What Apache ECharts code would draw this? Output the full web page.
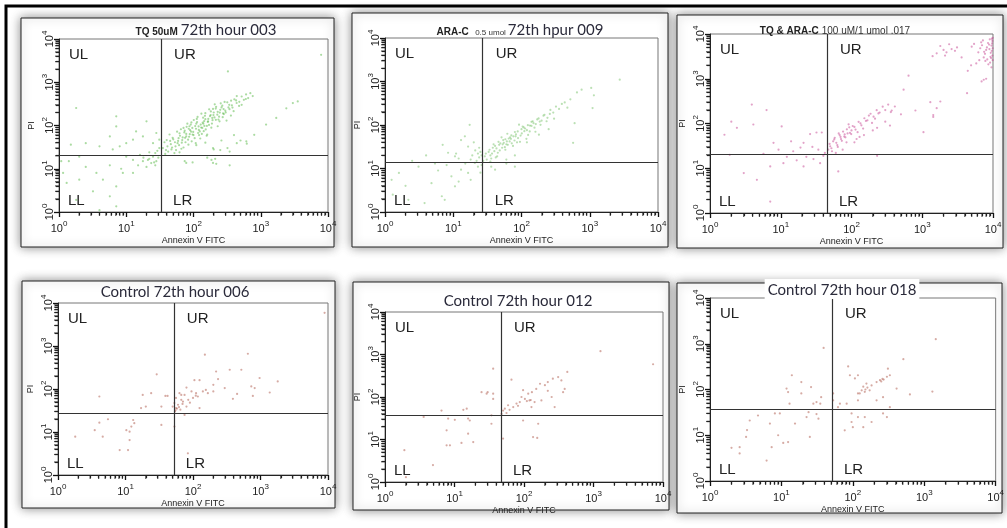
<!DOCTYPE html>
<html>
<head>
<meta charset="utf-8">
<script src="https://cdn.jsdelivr.net/npm/echarts@6/dist/echarts.min.js"></script>
<style>
  html, body { margin: 0; padding: 0; background: #fff; }
  #chart { width: 1007px; height: 528px; }
</style>
</head>
<body>
<div id="chart"></div>
<script>
// axis decades and quadrant gates (Annexin V FITC / PI)
const decades = [1, 10, 100, 1000, 10000];
const minorSteps = [2, 3, 4, 5, 6, 7, 8, 9];
const gateX = [33, 27, 45, 52, 46.6, 50.8];
const gateY = [20, 14, 21, 28, 38, 37.5];
const quadrantNames = ['UL', 'UR', 'LL', 'LR'];

const tq50Points = [
  [37,41],[52,23],[44,62],[61,35],[39,27],[71,88],[48,31],[83,47],[57,72],[66,29],[93,118],[42,25],[78,64],[104,51],[59,44],[87,96],
  [124,73],[46,37],[69,53],[112,142],[97,62],[135,88],[54,33],[148,167],[76,41],[119,95],[163,121],[89,78],[63,58],[181,212],[142,74],
  [101,134],[73,69],[205,154],[128,105],[158,98],[49,52],[226,178],[94,43],[171,236],[117,67],[246,199],[139,152],[81,110],[192,133],
  [268,287],[152,81],[109,84],[214,246],[65,82],[297,221],[176,164],[86,55],[235,137],[131,188],[318,344],[99,71],[188,111],[261,262],
  [144,126],[343,238],[68,46],[207,309],[157,58],[372,293],[121,60],[283,184],[79,93],[405,402],[229,207],[58,39],[166,142],[438,331],
  [91,105],[254,326],[108,39],[476,284],[198,174],[137,116],[520,468],[71,31],[301,201],[184,89],[561,392],[115,158],[331,262],[47,28],
  [605,523],[244,125],[150,193],[362,374],[84,36],[650,430],[217,270],[126,50],[395,214],[62,66],[700,560],[272,156],[96,88],[440,480],
  [160,62],[53,41],[310,130],[106,97],[480,352],[195,242],[74,76],[133,64],[360,170],[41,33],[290,350],[88,63],[520,300],[170,103],
  [229,96],[40,46],[113,120],[62,24],[250,230],[145,98],[380,260],[78,56],[190,150],[55,27],[275,190],[120,79],[100,60],[35,30],[45,44],
  [67,40],[92,72],[140,110],[180,175],[215,135],[340,300],[430,380],[600,410],[760,480],[38,22],[50,48],[60,51],[85,84],[75,52],
  [110,110],[150,140],[130,90],[165,125],[200,200],[240,160],[280,240],
  [110,35],[150,40],[200,28],[260,45],[320,30],[400,60],[500,45],[620,38],[195,30],[250,27],[345,25],[440,39],
  [7900,4300],[325,1780],[3550,360],[3000,330],[2400,250],[1700,150],[1200,105],[800,61],[610,43],
  [74,15],[97,14],[185,16],[218,13],[345,12],[78,13.6],[195,13.6],[210,17],[160,18],
  [1.08,15],[1.4,15],[2.0,19],[2.5,11],[3.6,8],[5.7,12],[4.5,5.6],[7.1,3.9],[8.9,8],[8.4,10],[10,19],[12.6,16],[17.7,15],[21,16],
  [23.5,13.5],[25,19],[28,15],[20,11],[12.6,8],[5.7,2.3],[7.1,1.35],[4,1.1],[3.2,3],[1.3,4.7],[1.15,8],[1.8,1.9],[2,5.6],
  [22,17],[26,14],[30,18],[18,18],[15,12],[27,12],
  [1.8,254],[7.1,163],[5.7,56],[20,125],[1.5,36],[4,33],[8,33],[12.6,47],[17.7,56],[28,67],[25,39],[31,47],[14,73],[10,39],
  [6.3,28],[2.5,39],[7.1,95],[16,21],[22,24],[29,26],[31,30],[27,23]
];

const araCPoints = [
  [29,19],[34,27],[31,16],[41,33],[37,22],[46,41],[33,24],[52,30],[44,19],[58,47],[39,36],[63,35],[48,26],[71,58],[55,39],[36,17],
  [79,44],[62,63],[43,29],[88,71],[67,42],[51,52],[97,57],[75,33],[58,27],[108,88],[83,61],[47,35],[120,76],[92,102],[65,49],[133,97],
  [72,38],[101,64],[146,122],[54,45],[113,83],[162,105],[80,69],[125,59],[178,142],[89,50],[140,118],[197,126],[60,36],[155,87],
  [217,172],[104,92],[240,146],[118,48],[170,134],[265,222],[76,55],[190,101],[292,193],[132,71],[210,164],[320,265],[95,41],[233,122],
  [355,234],[150,110],[390,305],[40,25],[68,52],[86,40],[110,72],[45,23],[57,31],[160,70],[260,180],[300,140],[430,330],[470,250],
  [520,390],[35,20],[49,38],[82,55],[124,99],[185,120],[27.5,15],[30,22],[38,30],[42,18],[53,36],[61,42],[70,48],[100,80],[140,95],
  [600,110],[570,39],[650,560],[760,650],[1050,710],[1100,245],[1150,480],[2750,1100],[35,14.5],[60,16],[80,20],[180,60],[250,80],[120,40],
  [1.6,7.9],[4.8,4.6],[6.8,2.3],[9.4,6.6],[13,9.4],[10.6,19],[16.5,32],[17.4,101],[14.8,55],[8.4,23],[5.4,13],[3.1,11],[20.7,13.4],
  [23,11],[16.5,7.9],[10.6,3.9],[2.2,1.9],[1.25,5.5],[3.8,1.6],[7.5,1.9],[24,18],[25,24],[22,15],[26,12],[19,20],[21,26],[18,16],
  [15,13],[12,17],[11,22],[24,30],[20,40],[13,45],[7,35],[26,20],[23,22],[36,11],[41,9.4],[80,11],[60,13],[4,20],[2.5,15],[6,9],
  [8,12],[12,5],[18,5.5],[25,8],[1.3,2.5],[2,4]
];

const comboPoints = [
  [9800,7000],[9700,6200],[9500,5500],[9900,4800],[9600,4200],[9300,3800],[9800,3300],[9400,2900],[9900,2600],[9100,2300],[8800,5800],
  [8500,6300],[8200,5000],[8000,4400],[7700,3600],[7400,3000],[7800,2500],[8600,2100],[7000,5600],[6600,4800],[6200,3900],[5800,2200],
  [5400,6000],[6800,6500],[7200,7200],[9000,7600],[9900,8200],[9600,7800],[5000,5200],[8300,2700],[9200,3100],[8900,4600],[7500,4000],
  [6400,2600],[4900,2000],[4400,1500],[8000,1000],[7400,950],[9500,1800],
  [1600,3700],[1800,5400],[2000,4400],[2200,3900],[2400,5900],[2600,4600],[2900,4200],[2100,3300],[3100,5000],[1400,3200],[3600,3000],
  [545,570],[640,1170],[1300,300],[1430,140],[1040,64],[4300,475],[6900,870],[370,195],[800,195],[1800,310],[1600,220],[1430,155],
  [47,26],[55,40],[50,31],[63,33],[58,48],[71,45],[52,28],[66,60],[79,51],[61,37],[86,74],[73,41],[95,62],[68,55],[104,88],[82,49],
  [57,44],[114,73],[91,96],[76,66],[126,109],[99,58],[138,91],[85,38],[152,131],[110,84],[64,30],[168,118],[122,64],[186,165],[134,101],
  [80,57],[205,142],[146,77],[227,199],[160,114],[93,82],[250,176],[176,150],[118,45],[276,238],[195,103],[300,200],[215,128],[330,265],
  [240,168],[360,180],[410,240],[130,50],[200,70],[300,110],[500,160],[60,22],[75,26],[110,38],[150,55],[230,80],[350,90],[49,35],
  [53,24],[88,60],[100,70],[70,50],
  [65,8.5],[230,19],
  [3.9,265],[6.3,200],[2.4,80],[1.6,56],[4.1,95],[10.3,86],[7.9,37],[21,37],[26,58],[32,63],[38,63],[19,29],[15,24],[9.3,26],[5.7,21],
  [10.9,13],[16.8,15],[29,16],[36,13],[7.1,11],[4.6,5.5],[7.1,1.8],[1.9,20],[3,7.8],[21,11],[23,18],[12.2,18],[40,19],[42,22],[34,26],
  [28,30],[14,40],[2,110]
];

const ctrl006Points = [
  [8900,5900],[650,660],[150,630],[29,220],[520,280],[350,280],[220,255],[235,170],[970,180],[730,115],[820,105],[1800,150],[1370,83],
  [770,69],[295,105],[200,125],[125,160],[105,160],[155,95],[140,88],[111,80],[95,88],[80,108],[75,73],[63,80],[67,56],[56,62],[53,47],
  [60,43],[71,51],[85,56],[100,62],[118,67],[166,80],[200,88],[390,59],[450,77],[125,36],[80,39],[56,36],[50,39],[67,73],[75,25],
  [53,13.4],[84,3.2],[39,69],[42,69],[24,80],[18,73],[4.1,67],[34,39],[20,39],[17,36],[34,14.6],[13,19],[13.5,16],[12.2,13.4],
  [11.5,10.2],[10.3,11],[11.5,6.5],[10.9,3.8],[8.2,3.8],[5.5,19.8],[4.1,16.5],[3.5,11],[4.6,7.8],[1.8,7.8],[55,32],[58,35],[62,38],
  [65,33],[70,45],[54,30],[90,48],[110,70]
];

const ctrl012Points = [
  [7200,590],[1260,1200],[420,390],[36,465],[66,255],[97,145],[30,130],[36,120],[310,295],[345,245],[260,270],[220,225],[200,190],
  [170,205],[150,155],[130,130],[115,120],[120,83],[103,90],[92,100],[87,76],[78,70],[70,58],[59,64],[53,53],[50,48],[56,42],[47.5,40],
  [128,58],[142,76],[178,83],[250,100],[276,58],[365,130],[385,155],[220,140],[97,28],[160,23.5],[135,11.4],[155,10.9],[50,10.5],
  [34,23.5],[36,90],[24.5,130],[29,120],[15,53],[13.4,50],[6.5,48],[3.6,34],[8.1,31],[10.1,29],[15.7,31],[16.6,28],[15.7,13.7],
  [18.6,8.7],[7.7,16.4],[12.6,8.3],[8.6,7.3],[7.7,7.3],[4.9,2.5],[1.9,5.6],[2,1.3],[34,37],[110,80],[125,85],[62,50],[82,62]
];

const ctrl018Points = [
  [1450,1260],[510,460],[39,810],[86,320],[310,285],[330,205],[300,190],[270,165],[240,160],[215,145],[183,123],[155,135],[140,115],
  [133,96],[118,82],[125,82],[147,89],[172,96],[107,175],[118,205],[91,205],[410,105],[630,78],[1300,90],[265,68],[215,58],[118,58],
  [82,49],[66,49],[62,41],[53,82],[53,58],[96,30],[118,25],[147,25],[183,19.5],[96,19.5],[77,12.8],[100,15],[140,15],[265,30],[300,25],
  [330,41],[36,68],[31,53],[35,49],[28,49],[26,113],[19,145],[19,82],[14,205],[11.8,105],[12.4,88],[13,49],[9.5,30],[8.1,30],[6.9,18],
  [4.7,27],[3.6,21],[3.3,13],[3.2,9.2],[2.6,5.5],[2,5.3],[2.6,4],[6.2,2.8],[7.3,5.5],[9,10],[10.6,6.8],[12.4,7.1],[15.5,18],[22.5,25],
  [24,32],[25,9.2],[31,29],[33,23],[260,170],[250,150],[150,100],[160,110]
];

const panelData = [tq50Points, araCPoints, comboPoints, ctrl006Points, ctrl012Points, ctrl018Points];
const panelTitles = [
  '{b|TQ 50uM}{r|72th hour 003}',
  '{b|ARA-C} {s|0.5 umol}{r|72th hpur 009}',
  '{b|TQ & ARA-C}{t|100 uM/1 umol .017}',
  '{r|Control 72th hour 006}',
  '{r|Control 72th hour 012}',
  '{r|Control 72th hour 018}'
];

// layout: plot rectangles [left, top, width, height], panel frames, title centres
const plots = [[59,39,269,173],[385,38,273,174],[710,34,283,179],[58,303,270,172],[385,312,278,170],[710,298,286,183]];
const boxes = [[21,18,313,229],[352,13,316,234],[677,15,326,233],[22,281,313,227],[353,282,316,228],[677,283,325,230]];
const titlePos = [[206,29],[520,29],[835,28],[175,291],[518,300],[842,289]];
const dotColors = ['rgba(80,180,60,0.6)','rgba(100,185,85,0.55)','rgba(195,60,140,0.6)','rgba(170,80,65,0.6)','rgba(170,80,65,0.6)','rgba(170,80,65,0.6)'];

const font = 'Liberation Sans, Arial, sans-serif';

// minor tick values between decades (2..9 x each decade)
const minorValues = [];
decades.slice(0, -1).forEach(d => minorSteps.forEach(m => minorValues.push(d * m)));

function logPos(v, start, len) {
  return start + len * Math.log10(v) / Math.log10(decades[decades.length - 1]);
}

function decadeLabel(v) {
  return '{b|10}{s|' + Math.round(Math.log10(v)) + '}';
}

const labelRich = {
  b: { fontSize: 11, fontFamily: font, color: '#222', lineHeight: 14, verticalAlign: 'bottom' },
  s: { fontSize: 8, fontFamily: font, color: '#222', lineHeight: 14, verticalAlign: 'top' }
};

let grids = [], xAxes = [], yAxes = [], series = [], graphics = [];

graphics.push({
  type: 'rect', zlevel: -1, silent: true,
  shape: { x: 6, y: 6, width: 1010, height: 530 },
  style: { fill: '#fff', stroke: '#000', lineWidth: 3 }
});

plots.forEach((p, i) => {
  const [left, top, width, height] = p;
  grids.push({ left: left, top: top, width: width, height: height, show: true, borderColor: '#777', borderWidth: 1 });

  const axisCommon = {
    type: 'log', logBase: 10, min: decades[0], max: decades[decades.length - 1], gridIndex: i,
    axisLine: { show: true, onZero: false, lineStyle: { color: '#222', width: 1 } },
    axisTick: { show: true, length: 5, lineStyle: { color: '#111', width: 1.3 } },
    minorTick: { show: true, splitNumber: 9, length: 3, lineStyle: { color: '#222', width: 1.2 } },
    splitLine: { show: false },
    nameLocation: 'middle',
    nameTextStyle: { fontSize: 9, fontFamily: font, color: '#222' }
  };
  xAxes.push(Object.assign({}, axisCommon, {
    position: 'bottom', name: 'Annexin V FITC', nameGap: 24,
    axisLabel: { formatter: decadeLabel, margin: 8, rich: labelRich }
  }));
  yAxes.push(Object.assign({}, axisCommon, {
    position: 'left', name: 'PI', nameGap: 23,
    axisLabel: { formatter: decadeLabel, margin: 4, rotate: 90, rich: labelRich }
  }));

  series.push({
    type: 'scatter', xAxisIndex: i, yAxisIndex: i,
    data: panelData[i], symbolSize: 2.2,
    itemStyle: { color: dotColors[i] },
    markLine: {
      silent: true, symbol: ['none', 'none'], label: { show: false },
      lineStyle: { color: '#333', type: 'solid', width: 1.2 },
      data: [{ xAxis: gateX[i] }, { yAxis: gateY[i] }]
    }
  });
  // minor ticks as short marks along both axes, placed through the axes' own scales
  series.push({
    type: 'scatter', xAxisIndex: i, yAxisIndex: i, silent: true, clip: false,
    symbol: 'rect', symbolSize: [1.2, 4], symbolOffset: [0, 2],
    itemStyle: { color: '#222' },
    data: minorValues.map(v => [v, decades[0]])
  });
  series.push({
    type: 'scatter', xAxisIndex: i, yAxisIndex: i, silent: true, clip: false,
    symbol: 'rect', symbolSize: [4, 1.2], symbolOffset: [-2, 0],
    itemStyle: { color: '#222' },
    data: minorValues.map(v => [decades[0], v])
  });

  const b = boxes[i];
  graphics.push({
    type: 'rect', zlevel: -1, silent: true,
    shape: { x: b[0], y: b[1], width: b[2], height: b[3] },
    style: { fill: '#fff', stroke: '#222', lineWidth: 1, shadowBlur: 10, shadowColor: 'rgba(0,0,0,0.45)' }
  });

  graphics.push({
    type: 'text', z: 50, silent: true,
    x: titlePos[i][0], y: titlePos[i][1],
    style: {
      text: panelTitles[i], align: 'center', verticalAlign: 'middle',
      backgroundColor: i === 5 ? '#fff' : 'transparent', padding: [1, 3],
      rich: {
        b: { fontSize: 10, fontWeight: 'bold', fontFamily: font, fill: '#222', verticalAlign: 'bottom', lineHeight: 18, padding: [0, 3, 1, 0] },
        s: { fontSize: 8, fontFamily: font, fill: '#333', verticalAlign: 'bottom', lineHeight: 18, padding: [0, 2, 1, 0] },
        t: { fontSize: 10, fontFamily: font, fill: '#333', verticalAlign: 'bottom', lineHeight: 18, padding: [0, 0, 1, 0] },
        r: { fontSize: 15, fontFamily: 'Lato, sans-serif', fill: '#2a2a3a', verticalAlign: 'bottom', lineHeight: 18 }
      }
    }
  });

  const gx = logPos(gateX[i], left, width);
  const qPos = [[left + 10, top + 8], [gx + 13, top + 8], [left + 9, top + height - 19], [gx + 12, top + height - 19]];
  quadrantNames.forEach((q, k) => {
    graphics.push({
      type: 'text', z: 50, silent: true,
      x: qPos[k][0], y: qPos[k][1],
      style: { text: q, fontSize: 15, fontFamily: font, fill: '#222', verticalAlign: 'top' }
    });
  });
});

const myChart = echarts.init(document.getElementById('chart'));
myChart.setOption({
  animation: false,
  backgroundColor: '#fff',
  grid: grids,
  xAxis: xAxes,
  yAxis: yAxes,
  series: series,
  graphic: graphics
});
</script>
</body>
</html>
